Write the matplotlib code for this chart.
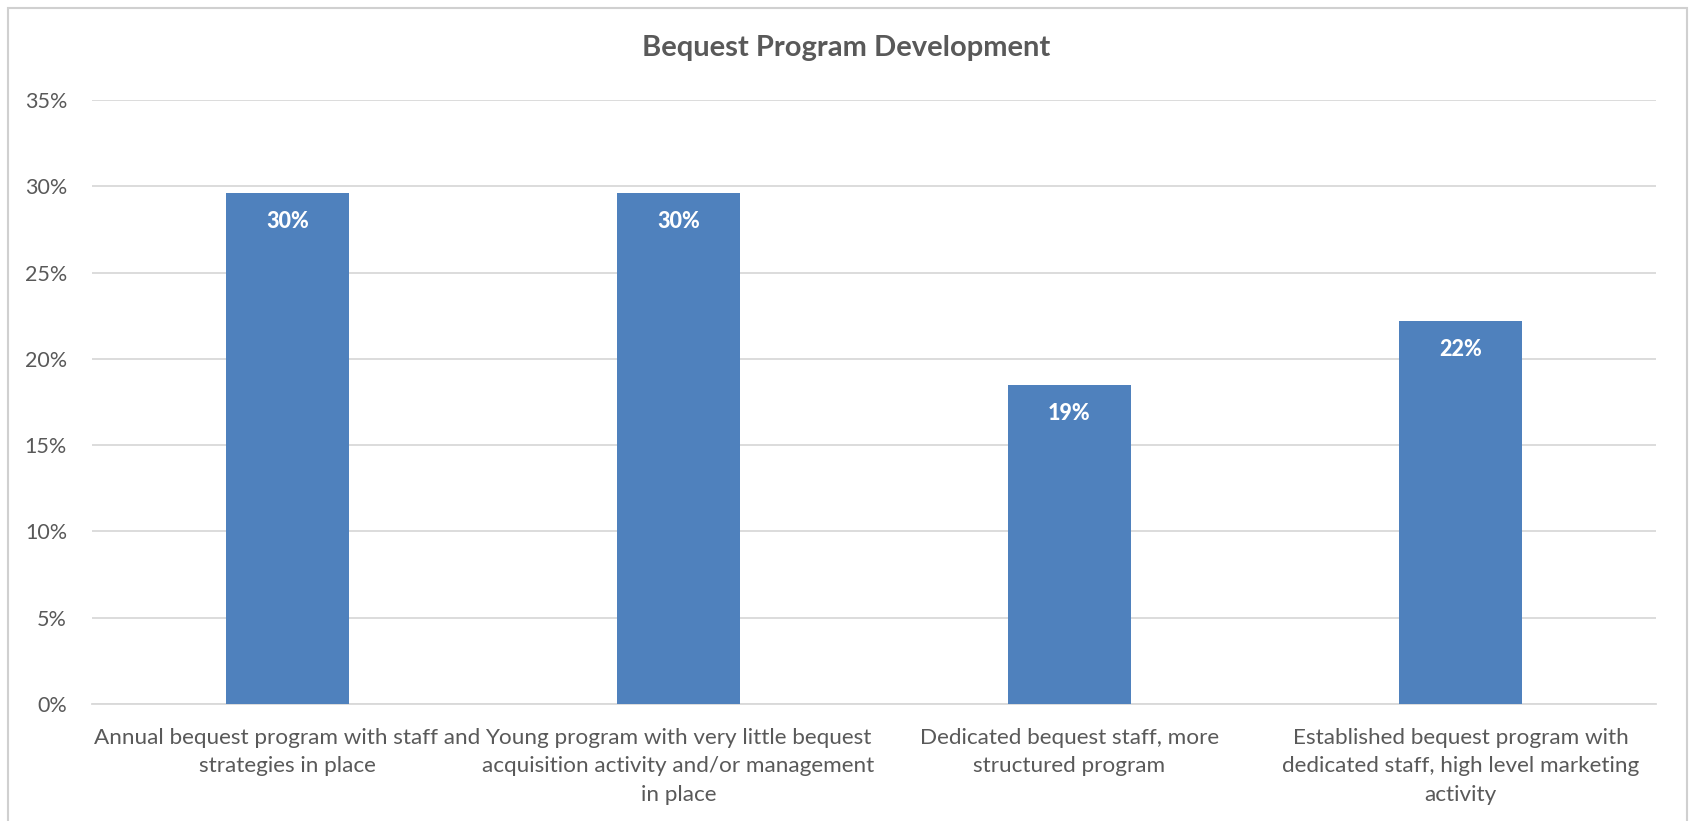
import matplotlib.pyplot as plt
from matplotlib.patches import Rectangle
from matplotlib.ticker import PercentFormatter

# values (fractions)
categorias = [
    "Annual bequest program with staff and\nstrategies in place",
    "Young program with very little bequest\nacquisition activity and/or management\nin place",
    "Dedicated bequest staff, more\nstructured program",
    "Established bequest program with\ndedicated staff, high level marketing\nactivity",
]
valores = [0.296, 0.296, 0.185, 0.222]
rotulos = ["30%", "30%", "19%", "22%"]

COR_BARRA = "#4F81BD"
COR_TEXTO = "#595959"
COR_GRADE = "#D9D9D9"

plt.rcParams['font.family'] = ['Lato', 'DejaVu Sans']

fig = plt.figure(figsize=(16.92, 8.21), dpi=100)
ax = fig.add_axes([0.0544, 0.1425, 0.9243, 0.7355])

x = list(range(len(categorias)))
barras = ax.bar(x, valores, width=0.315, color=COR_BARRA, zorder=3)

for barra, rotulo in zip(barras, rotulos):
    ax.annotate(rotulo, (barra.get_x() + barra.get_width() / 2, barra.get_height()),
                xytext=(0, -13), textcoords='offset points', ha='center', va='top',
                color='white', fontsize=15.5, fontweight='black')

ax.set_xlim(-0.5, 3.5)
ax.set_ylim(0, 0.35)
ax.set_yticks([i * 0.05 for i in range(8)])
ax.yaxis.set_major_formatter(PercentFormatter(1.0, decimals=0))
ax.set_xticks(x)
ax.set_xticklabels(categorias, fontsize=16.2, color=COR_TEXTO, linespacing=1.55)
ax.tick_params(axis='y', labelsize=15.5, labelcolor=COR_TEXTO, length=0, pad=18)
ax.tick_params(axis='x', length=0, pad=17)

ax.grid(axis='y', color=COR_GRADE, linewidth=1.3, zorder=0)
for lado in ['top', 'right', 'left']:
    ax.spines[lado].set_visible(False)
ax.spines['bottom'].set_color(COR_GRADE)
ax.spines['bottom'].set_linewidth(1.3)

fig.text(0.5, 0.942, "Bequest Program Development", ha='center', va='center',
         fontsize=21, fontweight='bold', color=COR_TEXTO)

# moldura externa
fig.patches.append(Rectangle((8 / 1692, -0.05), (1687 - 8) / 1692, 1.05 - 8 / 821,
                             transform=fig.transFigure, fill=False,
                             edgecolor='#D0D0D0', linewidth=1.5))

fig.savefig("out.png", dpi=100)
